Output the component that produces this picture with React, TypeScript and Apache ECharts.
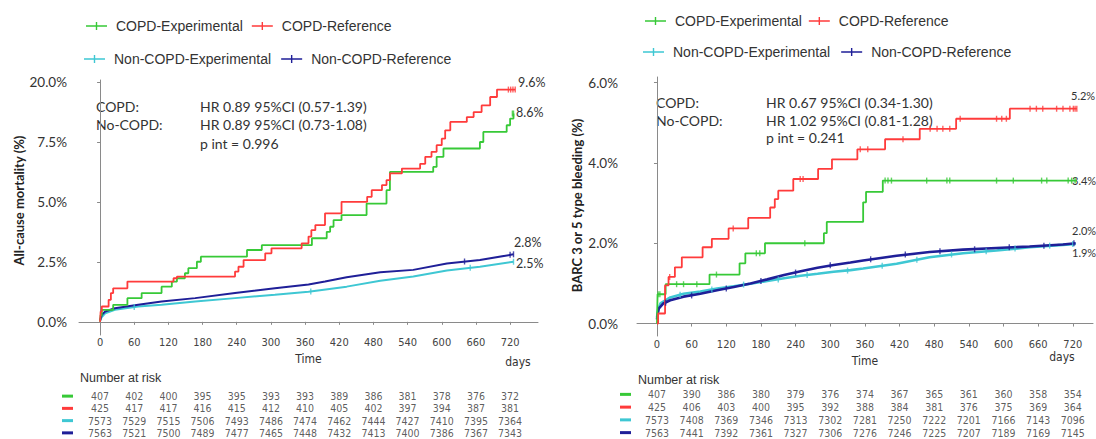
import React, { useEffect, useRef } from "react";
import * as echarts from "echarts";

// ---------- data ----------
const seriesNames = ["COPD-Experimental", "COPD-Reference", "Non-COPD-Experimental", "Non-COPD-Reference"];
const seriesColors = ["#37c937", "#ff3b3b", "#3ec7d3", "#1f1f98"];

const timeTicks = [0, 60, 120, 180, 240, 300, 360, 420, 480, 540, 600, 660, 720];

const leftYTicks = [0, 2.5, 5, 7.5, 10];
const leftYTickLabels = ["0.0%", "2.5%", "5.0%", "7.5%", "20.0%"];
const rightYTicks = [0, 2, 4, 6];
const rightYTickLabels = ["0.0%", "2.0%", "4.0%", "6.0%"];

// Left: all-cause mortality (%), [day, cumulative %]
const mortCopdExp = [[0,0],[1,0.28],[3,0.5],[23,0.71],[48,0.99],[73,1.2],[108,1.47],[126,1.68],[135,1.82],[149,2.03],[155,2.24],[170,2.51],[177,2.72],[258,3.0],[284,3.2],[372,3.49],[398,3.76],[404,3.97],[410,4.25],[424,4.46],[468,4.94],[503,5.5],[509,6.26],[585,6.47],[591,6.89],[603,7.24],[667,7.51],[673,7.93],[714,8.21],[720,8.49],[726,8.7]];
const mortCopdRef = [[0,0],[1,0.43],[3,0.64],[15,0.92],[19,1.2],[23,1.4],[48,1.68],[129,1.82],[135,1.89],[237,2.1],[243,2.3],[252,2.58],[290,2.86],[301,3.07],[354,3.28],[366,3.56],[371,3.83],[378,4.04],[395,4.53],[424,5.01],[469,5.22],[477,5.5],[495,5.71],[503,5.92],[509,6.2],[530,6.4],[562,6.6],[571,6.89],[582,7.1],[591,7.38],[600,7.65],[606,8.0],[615,8.35],[644,8.55],[656,8.76],[670,9.04],[685,9.39],[697,9.7],[729,9.7]];
const mortNonExp = [[0,0.05],[3,0.2],[9,0.36],[26,0.5],[67,0.64],[108,0.71],[167,0.85],[237,0.99],[307,1.13],[366,1.26],[433,1.47],[492,1.72],[550,1.89],[609,2.14],[667,2.3],[726,2.51]];
const mortNonRef = [[0,0.05],[3,0.3],[9,0.43],[26,0.57],[67,0.71],[108,0.85],[167,0.99],[237,1.2],[307,1.4],[366,1.56],[395,1.68],[433,1.86],[492,2.07],[550,2.17],[609,2.44],[667,2.58],[726,2.82]];

const mortCensorCopdExp = [[724,8.7],[726,8.7]];
const mortCensorCopdRef = [[717,9.7],[721,9.7],[725,9.7],[729,9.7]];
const mortCensorNonExp = [[60,0.62],[370,1.27],[650,2.26],[726,2.51]];
const mortCensorNonRef = [[640,2.52],[720,2.8],[726,2.82]];

// Right: BARC 3 or 5 bleeding (%)
const bleedCopdExp = [[0,0],[1,0.73],[15,0.98],[91,1.22],[143,1.5],[153,1.75],[187,2.0],[289,2.25],[294,2.53],[357,3.02],[362,3.28],[391,3.56],[727,3.56]];
const bleedCopdRef = [[0,0],[2,0.25],[14,0.95],[20,1.16],[31,1.4],[43,1.65],[79,1.9],[95,2.11],[124,2.37],[158,2.63],[196,2.89],[204,3.1],[210,3.31],[236,3.6],[279,3.85],[303,4.09],[347,4.34],[395,4.59],[455,4.85],[518,5.1],[611,5.35],[727,5.35]];
const bleedNonExp = [[0,0.15],[2,0.35],[6,0.5],[23,0.65],[46,0.74],[75,0.8],[104,0.87],[133,0.93],[162,0.99],[191,1.06],[220,1.13],[249,1.19],[278,1.24],[306,1.29],[335,1.33],[357,1.37],[415,1.49],[472,1.65],[530,1.75],[588,1.82],[645,1.9],[703,1.96],[725,1.98]];
const bleedNonRef = [[0,0.1],[1,0.21],[3,0.37],[11,0.5],[23,0.58],[46,0.67],[75,0.74],[104,0.83],[133,0.91],[162,1.0],[191,1.1],[220,1.21],[249,1.3],[278,1.39],[306,1.46],[335,1.52],[357,1.57],[415,1.69],[472,1.78],[530,1.84],[588,1.88],[645,1.92],[703,1.97],[725,2.0]];

const bleedCensorCopdExp = [[2,0.73],[5,0.73],[34,0.98],[46,0.98],[69,0.98],[103,1.22],[172,1.75],[178,1.75],[256,2.0],[395,3.56],[400,3.56],[406,3.56],[467,3.56],[502,3.56],[507,3.56],[588,3.56],[617,3.56],[666,3.56],[675,3.56],[712,3.56],[718,3.56],[724,3.56]];
const bleedCensorCopdRef = [[22,1.16],[132,2.37],[248,3.6],[253,3.6],[352,4.34],[365,4.34],[426,4.59],[473,4.85],[485,4.85],[495,4.85],[507,4.85],[525,5.1],[588,5.1],[597,5.1],[605,5.1],[646,5.35],[657,5.35],[668,5.35],[692,5.35],[703,5.35],[715,5.35],[721,5.35],[724,5.35],[727,5.35]];
const bleedCensorNonExp = [[40,0.72],[95,0.85],[150,0.97],[210,1.1],[260,1.21],[330,1.32],[390,1.44],[450,1.59],[510,1.72],[570,1.8],[620,1.87],[680,1.94],[720,1.98]];
const bleedCensorNonRef = [[15,0.52],[60,0.7],[120,0.87],[180,1.06],[240,1.27],[300,1.45],[370,1.6],[430,1.72],[490,1.8],[550,1.85],[610,1.9],[670,1.94],[722,2.0]];

// Number at risk
const riskMortCopdExp = [407, 402, 400, 395, 395, 393, 393, 389, 386, 381, 378, 376, 372];
const riskMortCopdRef = [425, 417, 417, 416, 415, 412, 410, 405, 402, 397, 394, 387, 381];
const riskMortNonExp = [7573, 7529, 7515, 7506, 7493, 7486, 7474, 7462, 7444, 7427, 7410, 7395, 7364];
const riskMortNonRef = [7563, 7521, 7500, 7489, 7477, 7465, 7448, 7432, 7413, 7400, 7386, 7367, 7343];
const riskBleedCopdExp = [407, 390, 386, 380, 379, 376, 374, 367, 365, 361, 360, 358, 354];
const riskBleedCopdRef = [425, 406, 403, 400, 395, 392, 388, 384, 381, 376, 375, 369, 364];
const riskBleedNonExp = [7573, 7408, 7369, 7346, 7313, 7302, 7281, 7250, 7222, 7201, 7166, 7143, 7096];
const riskBleedNonRef = [7563, 7441, 7392, 7361, 7327, 7306, 7276, 7246, 7225, 7207, 7189, 7169, 7145];

// ---------- styles ----------
const NARROW = "'Liberation Sans Narrow','Arial Narrow','DejaVu Sans Condensed','Liberation Sans',sans-serif";
const SANS = "'Liberation Sans',Arial,sans-serif";
const LATO = "Lato,'Noto Sans',sans-serif";
const AXIS_COLOR = "#8a8a8a";
const TEXT = "#333";
const LEGEND_ICON = "path://M0,4.2H21V5.8H0Z M9.8,1H11.2V9H9.8Z";

function kmLine(name: string, color: string, data: number[][], axis: number, step: boolean, width: number, z: number) {
  return {
    type: "line", name, xAxisIndex: axis, yAxisIndex: axis, data,
    step: step ? "end" : false, showSymbol: false, symbol: "none",
    lineStyle: { color, width }, itemStyle: { color }, z, silent: true,
  };
}
function censor(color: string, data: number[][], axis: number) {
  return {
    type: "scatter", xAxisIndex: axis, yAxisIndex: axis, data,
    symbol: "rect", symbolSize: [1.4, 6], itemStyle: { color }, z: 4, silent: true,
  };
}
function riskSeries(rows: number[][], axis: number) {
  const data: any[] = [];
  rows.forEach((row, r) => row.forEach((v, i) => data.push([timeTicks[i], String(r), v])));
  return {
    type: "scatter", xAxisIndex: axis, yAxisIndex: axis, data, symbolSize: 1,
    itemStyle: { color: "rgba(0,0,0,0)" }, silent: true,
    label: { show: true, position: "inside", formatter: (p: any) => String(p.value[2]), fontSize: 10.5, color: TEXT, fontFamily: NARROW },
  };
}
function chartXAxis(grid: number, min: number, max: number, labelMargin: number, nameGap: number) {
  return {
    type: "value", gridIndex: grid, min, max,
    axisLine: { show: true, lineStyle: { color: AXIS_COLOR } },
    axisTick: { show: true, length: 3, customValues: timeTicks, lineStyle: { color: AXIS_COLOR } },
    axisLabel: { customValues: timeTicks, fontSize: 11, color: "#444", margin: labelMargin, fontFamily: NARROW },
    splitLine: { show: false },
    name: "Time", nameLocation: "middle", nameGap,
    nameTextStyle: { fontSize: 12, color: TEXT, fontFamily: NARROW },
  };
}
function chartYAxis(grid: number, min: number, max: number, ticks: number[], labels: string[], name: string, nameGap: number, margin: number, namePad: number[]) {
  return {
    type: "value", gridIndex: grid, min, max,
    axisLine: { show: true, lineStyle: { color: AXIS_COLOR } },
    axisTick: { show: true, length: 3, customValues: ticks, lineStyle: { color: AXIS_COLOR } },
    axisLabel: {
      customValues: ticks, margin, fontSize: 13.5, color: TEXT, fontFamily: LATO,
      formatter: (v: number) => { const i = ticks.findIndex((t) => Math.abs(t - v) < 1e-6); return i >= 0 ? labels[i] : ""; },
    },
    splitLine: { show: false },
    name, nameLocation: "middle", nameGap,
    nameTextStyle: { fontSize: 13, fontWeight: "bold", color: "#222", fontFamily: LATO, padding: namePad },
  };
}
function riskYAxis(grid: number) {
  const rich: any = {};
  seriesColors.forEach((c, i) => { rich["m" + i] = { backgroundColor: c, width: 11, height: 3 }; });
  return {
    type: "category", gridIndex: grid, data: ["0", "1", "2", "3"], inverse: true,
    axisLine: { show: false }, axisTick: { show: false }, splitLine: { show: false },
    axisLabel: { interval: 0, margin: 6, formatter: (v: string) => `{m${v}|}`, rich },
  };
}
function txt(text: string, x: number, y: number, size = 14, family = LATO, align = "left", fill = TEXT) {
  return { type: "text", x, y, silent: true, style: { text, fontSize: size, fontFamily: family, fill, align, verticalAlign: "middle" } };
}
function legendRow(names: string[], left: number, top: number, gap: number) {
  return {
    left, top, padding: 0, orient: "horizontal", itemWidth: 21, itemHeight: 10, itemGap: gap, icon: LEGEND_ICON,
    selectedMode: false, data: names,
    textStyle: { fontSize: 14, color: TEXT, fontFamily: SANS, padding: [0, 0, 0, 4] },
  };
}

export default function App() {
  const ref = useRef<HTMLDivElement>(null);
  useEffect(() => {
    if (!ref.current) return;
    const chart = echarts.init(ref.current, undefined, { renderer: "svg" });
    const [cExp, cRef, nExp, nRef] = seriesColors;
    const option: any = {
      animation: false,
      backgroundColor: "#ffffff",
      color: seriesColors,
      legend: [
        legendRow([seriesNames[0], seriesNames[1]], 86, 19, 9),
        legendRow([seriesNames[2], seriesNames[3]], 84, 52, 10),
        legendRow([seriesNames[0], seriesNames[1]], 645, 14, 7),
        legendRow([seriesNames[2], seriesNames[3]], 643, 45, 11),
      ],
      grid: [
        { left: 79, top: 80, width: 459, height: 255 },
        { left: 637, top: 77, width: 456, height: 259 },
        { left: 79, top: 390, width: 459, height: 55 },
        { left: 637, top: 388, width: 456, height: 55 },
      ],
      xAxis: [
        chartXAxis(0, -37, 769, 2, 14),
        chartXAxis(1, -34.6, 755, 3, 15),
        { type: "value", gridIndex: 2, min: -37, max: 769, show: false },
        { type: "value", gridIndex: 3, min: -34.6, max: 755, show: false },
      ],
      yAxis: [
        chartYAxis(0, -0.55, 10.1, leftYTicks, leftYTickLabels, "All-cause mortality (%)", 52, 12, [0, 0, 0, 14]),
        chartYAxis(1, -0.31, 6.14, rightYTicks, rightYTickLabels, "BARC 3 or 5 type bleeding (%)", 54, 19, [0, 0, 0, 2]),
        riskYAxis(2),
        riskYAxis(3),
      ],
      series: [
        kmLine(seriesNames[2], nExp, mortNonExp, 0, false, 2, 2),
        kmLine(seriesNames[3], nRef, mortNonRef, 0, false, 2, 2),
        kmLine(seriesNames[0], cExp, mortCopdExp, 0, true, 1.8, 3),
        kmLine(seriesNames[1], cRef, mortCopdRef, 0, true, 1.8, 3),
        censor(nExp, mortCensorNonExp, 0),
        censor(nRef, mortCensorNonRef, 0),
        censor(cExp, mortCensorCopdExp, 0),
        censor(cRef, mortCensorCopdRef, 0),
        kmLine(seriesNames[2], nExp, bleedNonExp, 1, false, 2.6, 2),
        kmLine(seriesNames[3], nRef, bleedNonRef, 1, false, 2.6, 2),
        kmLine(seriesNames[0], cExp, bleedCopdExp, 1, true, 1.8, 3),
        kmLine(seriesNames[1], cRef, bleedCopdRef, 1, true, 1.8, 3),
        censor(nExp, bleedCensorNonExp, 1),
        censor(nRef, bleedCensorNonRef, 1),
        censor(cExp, bleedCensorCopdExp, 1),
        censor(cRef, bleedCensorCopdRef, 1),
        riskSeries([riskMortCopdExp, riskMortCopdRef, riskMortNonExp, riskMortNonRef], 2),
        riskSeries([riskBleedCopdExp, riskBleedCopdRef, riskBleedNonExp, riskBleedNonRef], 3),
      ],
      graphic: [
        txt("COPD:", 96, 106),
        txt("No-COPD:", 96, 124.5),
        txt("HR 0.89 95%CI (0.57-1.39)", 200, 106),
        txt("HR 0.89 95%CI (0.73-1.08)", 200, 124.5),
        txt("p int = 0.996", 200, 143),
        txt("COPD:", 656, 102),
        txt("No-COPD:", 656, 120),
        txt("HR 0.67 95%CI (0.34-1.30)", 766, 102),
        txt("HR 1.02 95%CI (0.81-1.28)", 766, 120),
        txt("p int = 0.241", 766, 137.5),
        txt("9.6%", 518, 82, 12.5),
        txt("8.6%", 516, 112, 12.5),
        txt("2.8%", 514, 242, 12.5),
        txt("2.5%", 516, 263.5, 12.5),
        txt("5.2%", 1071, 95, 11),
        txt("3.4%", 1072, 180, 11),
        txt("2.0%", 1072, 230, 11),
        txt("1.9%", 1072, 252, 11),
        txt("days", 518, 362, 12, NARROW, "center"),
        txt("days", 1062, 356.5, 12, NARROW, "center"),
        txt("Number at risk", 80, 377.5, 12.5, SANS),
        txt("Number at risk", 638, 379.5, 12.5, SANS),
      ],
    };
    chart.setOption(option);
    return () => chart.dispose();
  }, []);
  return <div ref={ref} style={{ position: "fixed", left: 0, top: 0, width: 1096, height: 439, background: "#fff" }} />;
}
